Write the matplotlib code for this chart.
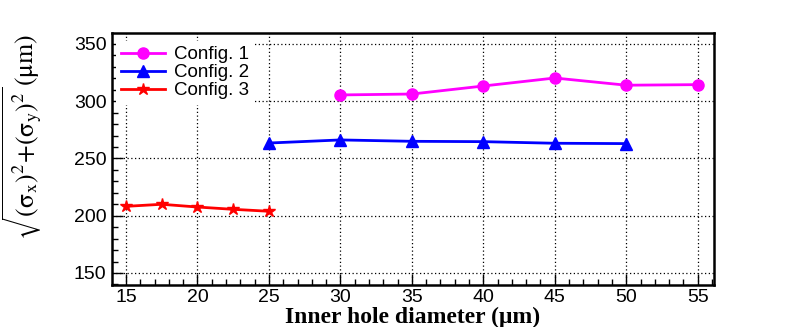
import matplotlib
matplotlib.use("Agg")
import matplotlib.pyplot as plt
from matplotlib.ticker import MultipleLocator

x1 = [30, 35, 40, 45, 50, 55]
y1 = [305.5, 306.3, 313.3, 320.3, 314.0, 314.5]
x2 = [25, 30, 35, 40, 45, 50]
y2 = [263.5, 266.2, 265.0, 264.7, 263.3, 263.0]
x3 = [15, 17.5, 20, 22.5, 25]
y3 = [208.2, 210.0, 207.6, 205.6, 203.9]
labels = ["Config. 1", "Config. 2", "Config. 3"]

plt.rcParams['font.family'] = ['Liberation Sans', 'DejaVu Sans']
plt.rcParams['mathtext.fontset'] = 'stix'

fig = plt.figure(figsize=(7.93, 3.27), dpi=100)
ax = fig.add_axes([112/793, 1 - 285/327, (714-112)/793, (285-33)/327])

ax.plot(x1, y1, color='#FF00FF', lw=2, marker='o', ms=8, label=labels[0])
ax.plot(x2, y2, color='#0000FF', lw=2, marker='^', ms=8, label=labels[1])
ax.plot(x3, y3, color='#FF0000', lw=2, marker='*', ms=9, label=labels[2])

ax.set_xlim(14.02, 56.14)
ax.set_ylim(139.5, 359.6)
ax.xaxis.set_major_locator(MultipleLocator(5))
ax.xaxis.set_minor_locator(MultipleLocator(1))
ax.yaxis.set_major_locator(MultipleLocator(50))
ax.yaxis.set_minor_locator(MultipleLocator(10))
ax.tick_params(which='both', direction='in', top=False, right=False, labelsize=14)
ax.tick_params(which='major', length=8, width=1)
ax.tick_params(which='minor', length=4, width=1)
ax.tick_params(axis='x', pad=3)
ax.tick_params(axis='y', pad=4)
ax.grid(True, which='major', color='black', linestyle=(0, (1, 2)), lw=0.9)
for s in ax.spines.values():
    s.set_linewidth(1.8)

ax.set_xlabel('Inner hole diameter (\u03bcm)', family='Liberation Serif',
              fontweight='bold', fontsize=17)
ax.xaxis.set_label_coords(0.5, -0.085)
ax.xaxis.label.set_va('top')
ax.set_ylabel(r'$\sqrt{(\mathrm{\sigma}_{\mathrm{x}})^{2}\!+\!(\mathrm{\sigma}_{\mathrm{y}})^{2}}\,(\mathrm{\mu m})$',
              fontsize=18.5)
ax.yaxis.set_label_coords(-0.15, 0.585)
ax.yaxis.label.set_va('center')

leg = ax.legend(loc='upper left', bbox_to_anchor=(0.0, 0.985), frameon=True,
                framealpha=1, edgecolor='none', fancybox=False, fontsize=13.5,
                handlelength=2.3, borderaxespad=0.2, labelspacing=0.05,
                borderpad=0.3, handletextpad=0.5)

fig.savefig('out.png', dpi=100)
